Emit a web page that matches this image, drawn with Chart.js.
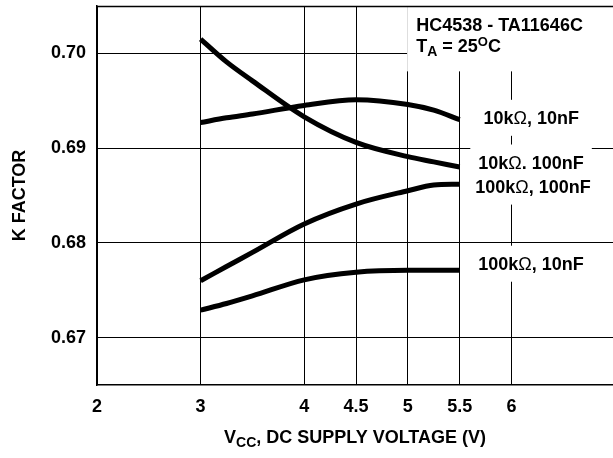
<!DOCTYPE html>
<html>
<head>
<meta charset="utf-8">
<script src="https://cdn.jsdelivr.net/npm/chart.js@4.4.1/dist/chart.umd.min.js"></script>
<style>
  html, body { margin: 0; padding: 0; background: #fff; }
  #wrap { width: 613px; height: 458px; position: relative; }
</style>
</head>
<body>
<div id="wrap"><canvas id="chart"></canvas></div>
<script>
// =======================
// DATA
// =======================
const vcc = [3, 3.25, 3.5, 4, 4.5, 5, 5.25, 5.5];

const k10k10n   = [0.6927, 0.6932, 0.6936, 0.6945, 0.6951, 0.6946, 0.6940, 0.6930];
const k10k100n  = [0.7015, 0.6991, 0.6971, 0.6933, 0.6906, 0.6891, 0.68855, 0.6880];
const k100k100n = [0.6760, 0.6775, 0.6790, 0.6820, 0.6841, 0.6855, 0.6861, 0.6862];
const k100k10n  = [0.6729, 0.6736, 0.6744, 0.6761, 0.6769, 0.6771, 0.6771, 0.6771];

const xTicks = [2, 3, 4, 4.5, 5, 5.5, 6];
const yTicks = [0.67, 0.68, 0.69, 0.70];

const curveNames = ["10kΩ, 10nF", "10kΩ. 100nF", "100kΩ, 100nF", "100kΩ, 10nF"];
// where each curve name sits (left edge, centre), in data units
const nameX = [5.73, 5.68, 5.65, 5.68];
const nameY = [0.6932, 0.68848, 0.68594, 0.6778];

const FONT = '"Liberation Sans", Arial, Helvetica, sans-serif';
const SIZE = 18;

// =======================
// HELPERS
// =======================
function font(r) {
  return (r.weight || "bold") + " " + (r.size || SIZE) + "px " + FONT;
}

function runsWidth(ctx, runs) {
  let w = 0;
  runs.forEach(r => { ctx.font = font(r); w += ctx.measureText(r.t).width; });
  return w;
}

function drawRuns(ctx, runs, x, baseline) {
  ctx.textAlign = "left";
  ctx.textBaseline = "alphabetic";
  runs.forEach(r => {
    ctx.font = font(r);
    ctx.fillText(r.t, x, baseline + (r.dy || 0));
    x += ctx.measureText(r.t).width;
  });
}

// Ω comes from a symbol face in the original, so keep it light
function nameRuns(text) {
  const parts = text.split("Ω");
  const runs = [{ t: parts[0] }];
  if (parts.length > 1) {
    runs.push({ t: "Ω", weight: "normal" });
    runs.push({ t: parts[1] });
  }
  return runs;
}

const titleLines = [
  [{ t: "HC4538 - TA11646C" }],
  [{ t: "T" }, { t: "A", size: 14, dy: 4 }, { t: " = 25" }, { t: "O", size: 13, dy: -6 }, { t: "C" }]
];

// =======================
// PLUGIN: labels, frame, axis titles
// =======================
const decor = {
  id: "decor",
  beforeDatasetsDraw(chart) {
    const ctx = chart.ctx;
    const xs = chart.scales.x, ys = chart.scales.y;
    const area = chart.chartArea;
    ctx.save();

    // title block, knocked out of the grid
    const tx = xs.getPixelForValue(5.08);
    const t1 = ys.getPixelForValue(0.70296);
    const t2 = ys.getPixelForValue(0.70074);
    ctx.fillStyle = "#fff";
    ctx.fillRect(tx - 9, area.top + 1, area.right - tx + 9, t2 + 24 - area.top);

    // curve names, each on its own white patch
    curveNames.forEach((name, i) => {
      const runs = nameRuns(name);
      const px = xs.getPixelForValue(nameX[i]);
      const py = ys.getPixelForValue(nameY[i]);
      const w = runsWidth(ctx, runs);
      ctx.fillStyle = "#fff";
      ctx.fillRect(px - 8, py - 18, w + 16, 36);
    });

    ctx.fillStyle = "#000";
    drawRuns(ctx, titleLines[0], tx, t1 + 6);
    drawRuns(ctx, titleLines[1], tx, t2 + 6);
    curveNames.forEach((name, i) => {
      const px = xs.getPixelForValue(nameX[i]);
      const py = ys.getPixelForValue(nameY[i]);
      drawRuns(ctx, nameRuns(name), px, py + 6);
    });

    // top edge of the frame
    ctx.strokeStyle = "#000";
    ctx.lineWidth = 1.5;
    ctx.beginPath();
    ctx.moveTo(area.left, Math.round(area.top) + 0.5);
    ctx.lineTo(area.right, Math.round(area.top) + 0.5);
    ctx.stroke();
    ctx.restore();
  },
  afterDraw(chart) {
    const ctx = chart.ctx;
    const area = chart.chartArea;
    ctx.save();
    ctx.fillStyle = "#000";

    // y title
    ctx.translate(20, (area.top + area.bottom) / 2);
    ctx.rotate(-Math.PI / 2);
    ctx.font = font({});
    ctx.textAlign = "center";
    ctx.textBaseline = "middle";
    ctx.fillText("K FACTOR", 0, 0);
    ctx.setTransform(1, 0, 0, 1, 0, 0);

    // x title with subscript
    const runs = [{ t: "V" }, { t: "CC", size: 14, dy: 4 }, { t: ", DC SUPPLY VOLTAGE (V)" }];
    const w = runsWidth(ctx, runs);
    drawRuns(ctx, runs, (area.left + area.right) / 2 - w / 2, 443);
    ctx.restore();
  }
};

// =======================
// CHART
// =======================
const lineStyle = {
  borderColor: "#000",
  borderWidth: 5,
  pointRadius: 0,
  fill: false,
  cubicInterpolationMode: "monotone"
};

const series = [k10k10n, k10k100n, k100k100n, k100k10n];

new Chart(document.getElementById("chart"), {
  type: "line",
  data: {
    datasets: series.map((vals, i) => Object.assign({
      label: curveNames[i],
      data: vals.map((v, j) => ({ x: vcc[j], y: v }))
    }, lineStyle))
  },
  options: {
    responsive: true,
    maintainAspectRatio: false,
    animation: false,
    devicePixelRatio: 1,
    layout: { padding: { top: 6, right: 0, left: 0, bottom: 0 } },
    plugins: {
      legend: { display: false },
      tooltip: { enabled: false }
    },
    scales: {
      x: {
        type: "linear",
        min: 2,
        max: 6.98,
        afterBuildTicks: axis => { axis.ticks = xTicks.map(v => ({ value: v })); },
        afterFit: axis => { axis.height = 73; axis.paddingLeft = 0; axis.paddingRight = 0; },
        grid: { color: "#000", lineWidth: 1, drawTicks: false },
        border: { display: true, color: "#000", width: 1.5 },
        ticks: {
          autoSkip: false,
          maxRotation: 0,
          padding: 11,
          color: "#000",
          font: { family: FONT, size: SIZE, weight: "bold" },
          callback: v => String(v)
        }
      },
      y: {
        type: "linear",
        min: 0.665,
        max: 0.705,
        afterBuildTicks: axis => { axis.ticks = yTicks.map(v => ({ value: v })); },
        afterFit: axis => { axis.width = 97; axis.paddingTop = 0; axis.paddingBottom = 0; },
        grid: { color: "#000", lineWidth: 1, drawTicks: false },
        border: { display: true, color: "#000", width: 1.5 },
        ticks: {
          padding: 11,
          color: "#000",
          font: { family: FONT, size: SIZE, weight: "bold" },
          callback: v => v.toFixed(2)
        }
      }
    }
  },
  plugins: [decor]
});
</script>
</body>
</html>
